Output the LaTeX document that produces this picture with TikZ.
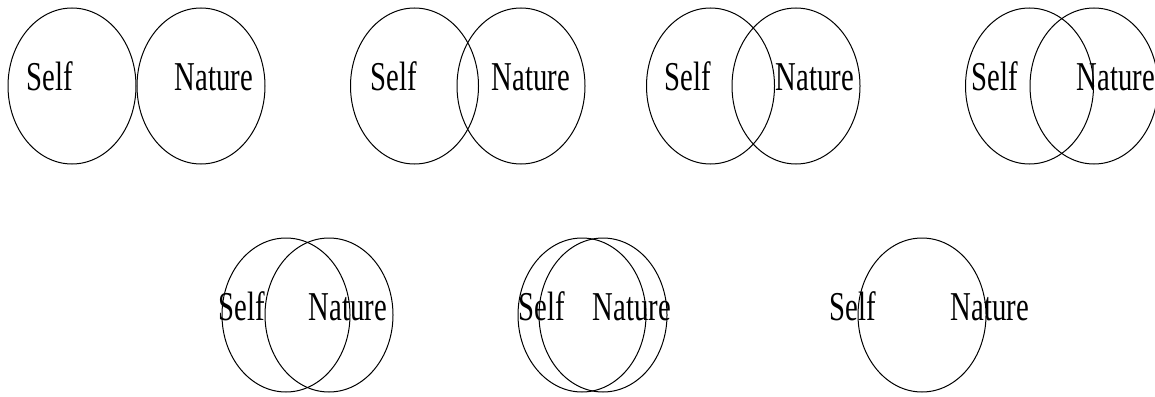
\documentclass[tikz,border=0pt]{standalone}
\usepackage{fontspec}
\setmainfont{Liberation Serif}[FakeStretch=0.7]
\usepackage{tikz}
\usetikzlibrary{shapes.geometric}
\tikzstyle{ring}=[draw, ellipse, line width=1pt, minimum width=128pt, minimum height=156pt, inner sep=0pt]
\tikzstyle{word}=[anchor=base, inner sep=0pt, font=\fontsize{41}{41}\selectfont]

\begin{document}
\begin{tikzpicture}[x=1pt,y=-1pt]
    \useasboundingbox (0,0) rectangle (1155,396);
    % top row
    \node [ring] (self1) at (72,86) {};
    \node [ring] (nature1) at (201,86) {};
    \node [word] (lself1) at (49.5,90) {Self};
    \node [word] (lnature1) at (214,90) {Nature};
    \node [ring] (self2) at (414.5,86) {};
    \node [ring] (nature2) at (521,86) {};
    \node [word] (lself2) at (394,90) {Self};
    \node [word] (lnature2) at (531,90) {Nature};
    \node [ring] (self3) at (710.5,86) {};
    \node [ring] (nature3) at (796,86) {};
    \node [word] (lself3) at (688,90) {Self};
    \node [word] (lnature3) at (815,90) {Nature};
    \node [ring] (self4) at (1029.5,86) {};
    \node [ring] (nature4) at (1094,86) {};
    \node [word] (lself4) at (995,90) {Self};
    \node [word] (lnature4) at (1116,90) {Nature};
    % bottom row
    \node [ring, minimum height=154pt] (self5) at (286,315) {};
    \node [ring, minimum height=154pt] (nature5) at (329,315) {};
    \node [word] (lself5) at (242,320) {Self};
    \node [word] (lnature5) at (348,320) {Nature};
    \node [ring, minimum height=154pt] (self6) at (582,315) {};
    \node [ring, minimum height=154pt] (nature6) at (603,315) {};
    \node [word] (lself6) at (542,320) {Self};
    \node [word] (lnature6) at (632,320) {Nature};
    \node [ring, minimum height=154pt] (one7) at (922,315) {};
    \node [word] (lself7) at (853,320) {Self};
    \node [word] (lnature7) at (990,320) {Nature};
\end{tikzpicture}
\end{document}
